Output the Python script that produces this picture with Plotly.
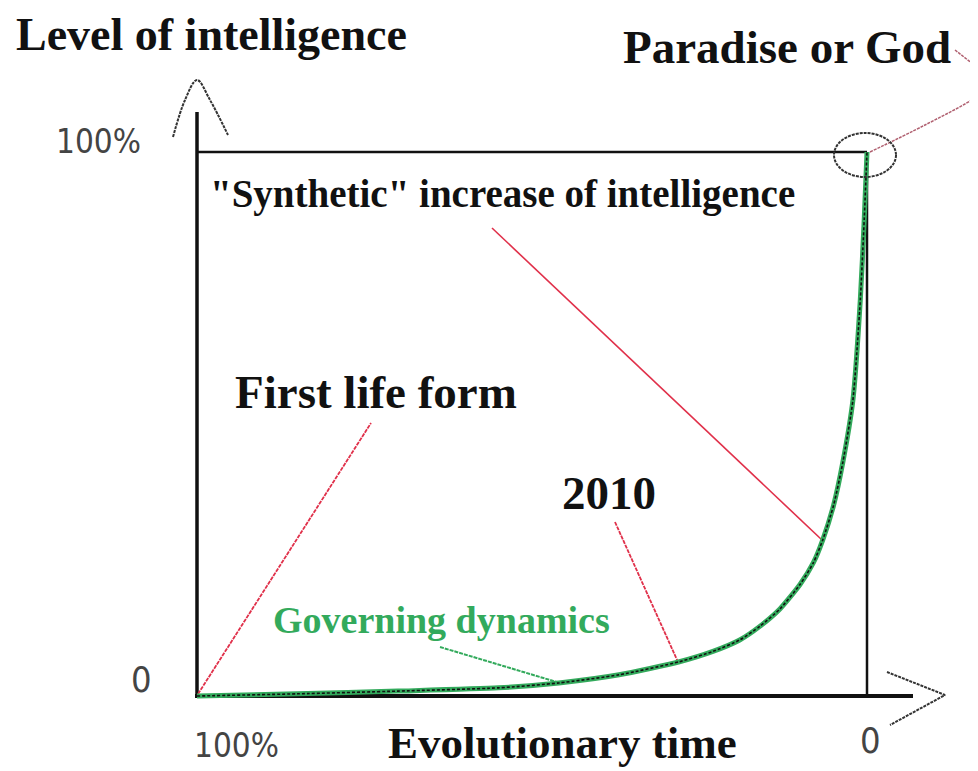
import plotly.graph_objects as go

# ---- data ----
evolutionary_time = [0, 15, 30, 45, 54, 63, 72, 77, 81, 84, 87, 90, 92, 93.4, 95, 96.4, 97.9, 99, 99.6, 100]
intelligence = [0, 0.4, 0.9, 1.5, 2.4, 3.9, 6.3, 8.2, 10.3, 12.8, 16.0, 20.5, 24.5, 28.7, 35, 43, 54.4, 72.8, 88, 100]
x_tick_labels = ["100%", "0"]
y_tick_labels = ["0", "100%"]

# ---- layout helpers: screen pixel -> data coordinates ----
W, H = 978, 771
OFF = 8               # default page margin of the browser body
PX0, PX1 = 197, 867   # x = 0 .. 100
PY0, PY1 = 696, 152   # y = 0 .. 100
SX = (PX1 - PX0) / 100.0
SY = (PY0 - PY1) / 100.0


def dx(px):
    return (px - PX0) / SX


def dy(py):
    return (PY0 - py) / SY


fig = go.Figure()

BLACK = "#111111"
RED = "#e0304a"
GREEN = "#33aa5c"
GRAY = "#333333"


def seg(pts, color, width, dash=None, shape="linear"):
    fig.add_trace(go.Scatter(
        x=[dx(p[0]) for p in pts], y=[dy(p[1]) for p in pts], mode="lines",
        line=dict(color=color, width=width, dash=dash, shape=shape),
        hoverinfo="skip", showlegend=False))


# axes and box
seg([(197, 112), (197, 697)], BLACK, 3.5)
seg([(195, 696), (913, 696)], BLACK, 4)
seg([(197, 152), (867, 152)], BLACK, 2.5)
seg([(867, 152), (867, 696)], BLACK, 2.5)

# hand-drawn arrow heads
seg([(173, 137), (185, 100), (197, 80), (210, 100), (228, 135)], GRAY, 2, "3px,1px", "spline")
seg([(887, 672), (945, 695), (890, 725)], GRAY, 2, "3px,1px")

# pointer lines
seg([(198, 694), (371, 423)], RED, 1.8, "4px,1px")
seg([(492, 228), (822, 540)], RED, 1.6)
seg([(615, 522), (678, 662)], RED, 1.8, "4px,1px")
seg([(440, 647), (560, 683)], GREEN, 2, "4px,1px")
seg([(870, 152), (925, 125), (978, 96), (1010, 70)], "#b06070", 1.5, "3px,1px", "spline")
seg([(955, 50), (978, 68)], "#b06070", 1.5, "3px,1px")

# ellipse around the top
fig.add_shape(type="circle", xref="x", yref="y",
              x0=dx(834), x1=dx(896), y0=dy(133), y1=dy(177),
              line=dict(color=GRAY, width=2, dash="3px,1px"))

# the curve
fig.add_trace(go.Scatter(x=evolutionary_time, y=intelligence, mode="lines",
                         line=dict(color=GREEN, width=5, shape="spline", smoothing=0.6),
                         hoverinfo="skip", showlegend=False))
fig.add_trace(go.Scatter(x=evolutionary_time, y=intelligence, mode="lines",
                         line=dict(color=BLACK, width=1.6, dash="3px,2px", shape="spline", smoothing=0.6),
                         hoverinfo="skip", showlegend=False))

SERIF = "Liberation Serif, Times New Roman, serif"
NARROW = "Liberation Sans Narrow, DejaVu Sans Condensed, Roboto, sans-serif"


def text(s, cx, cy, size, color=BLACK, family=SERIF, bold=True):
    fig.add_annotation(x=dx(cx), y=dy(cy), xref="x", yref="y",
                       text=f"<b>{s}</b>" if bold else s, showarrow=False,
                       xanchor="center", yanchor="middle",
                       font=dict(family=family, size=size, color=color))


text("Level of intelligence", 211, 34, 46)
text("Paradise or God", 787, 47, 47)
text('"Synthetic" increase of intelligence', 502, 194, 39)
text("First life form", 376, 392, 47)
text("2010", 609, 493, 47)
text("Governing dynamics", 441, 620, 38, GREEN)
text("Evolutionary time", 562, 743, 45)

# tick labels
text(y_tick_labels[1], 98, 141, 33, "#444444", NARROW, False)
text(y_tick_labels[0], 141, 679, 36, "#444444", NARROW, False)
text(x_tick_labels[0], 236, 745, 33, "#444444", NARROW, False)
text(x_tick_labels[1], 870, 740, 36, "#444444", NARROW, False)

fig.update_layout(
    width=W - OFF, height=H - OFF, margin=dict(l=0, r=0, t=0, b=0),
    paper_bgcolor="white", plot_bgcolor="white",
    xaxis=dict(range=[dx(OFF), dx(W)], visible=False, fixedrange=True),
    yaxis=dict(range=[dy(H), dy(OFF)], visible=False, fixedrange=True),
    showlegend=False,
)

fig.write_html("out.html")
